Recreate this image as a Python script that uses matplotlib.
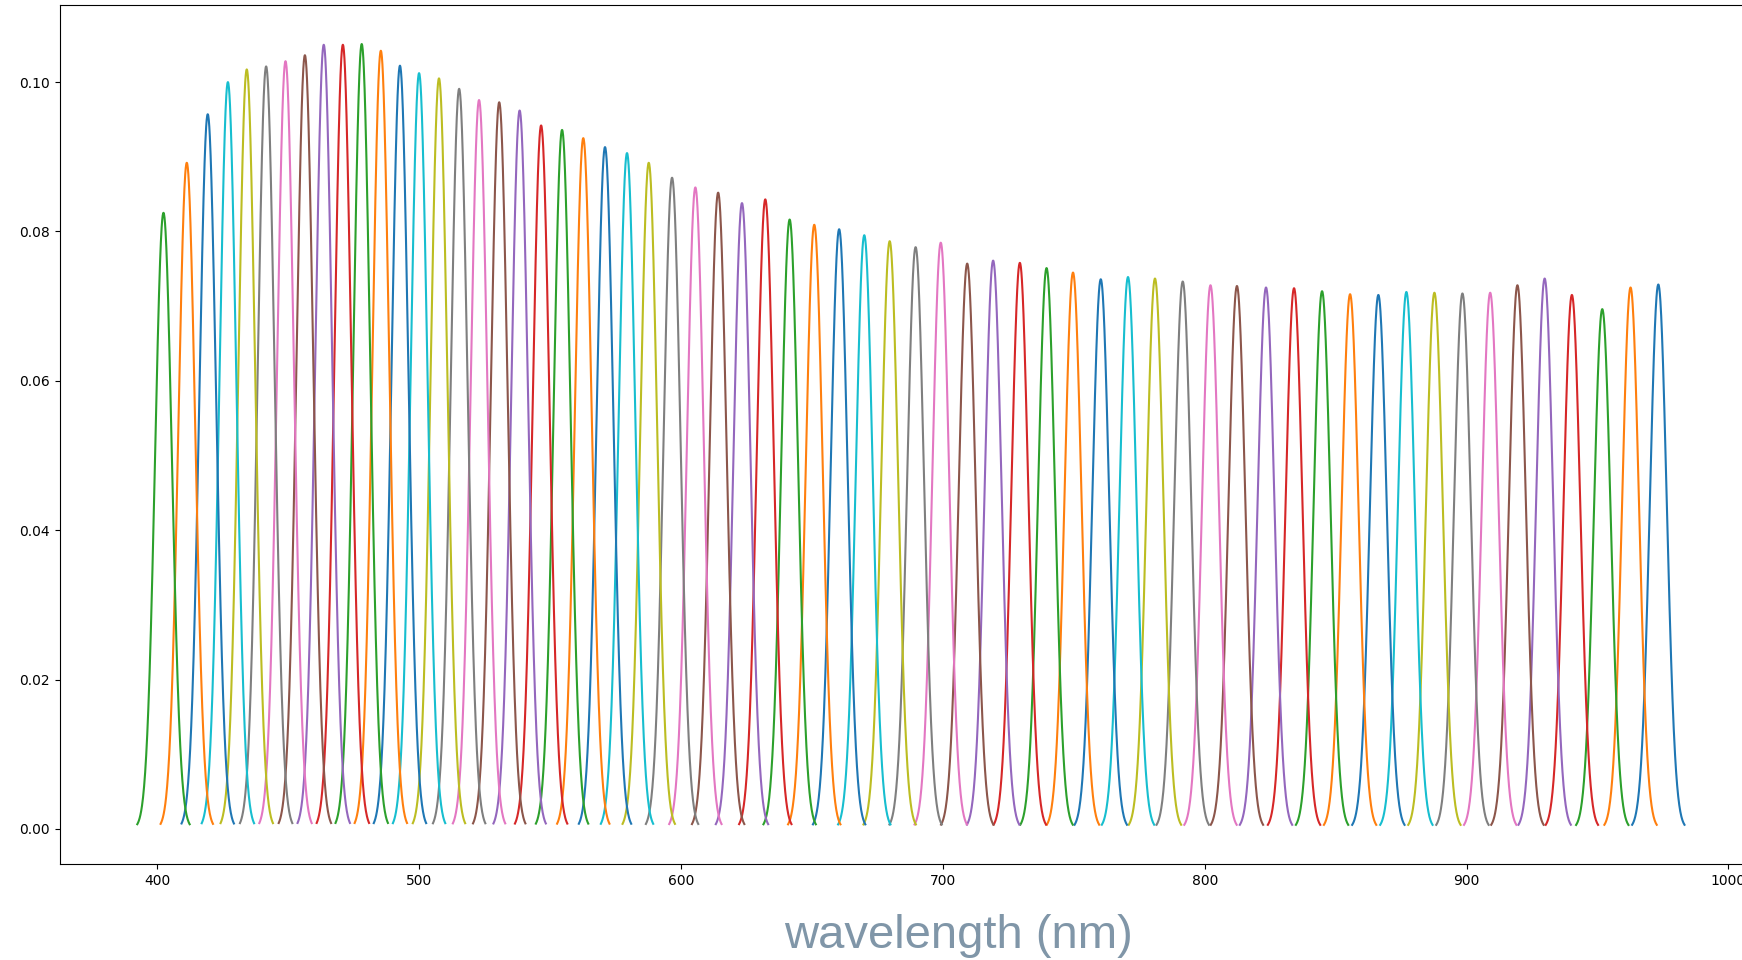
import numpy as np
import matplotlib.pyplot as plt

# filter channels: centre wavelength (nm) and peak response
centers = [402.4, 411.3, 419.3, 427.0, 434.2, 441.6, 449.0, 456.4, 463.6, 470.9,
           478.1, 485.4, 492.7, 500.0, 507.6, 515.3, 522.9, 530.6, 538.4, 546.6,
           554.6, 562.7, 571.0, 579.4, 587.7, 596.6, 605.5, 614.2, 623.3, 632.2,
           641.5, 650.9, 660.4, 670.0, 679.7, 689.6, 699.2, 709.3, 719.2, 729.4,
           739.6, 749.7, 760.3, 770.7, 781.0, 791.6, 802.2, 812.3, 823.4, 834.1,
           844.8, 855.5, 866.3, 877.0, 887.7, 898.4, 909.0, 919.4, 929.8, 940.2,
           951.8, 962.6, 973.2]
peaks = [0.0825, 0.0892, 0.0957, 0.1000, 0.1017, 0.1021, 0.1028, 0.1036, 0.1050, 0.1050,
         0.1051, 0.1042, 0.1022, 0.1012, 0.1005, 0.0991, 0.0976, 0.0973, 0.0962, 0.0942,
         0.0936, 0.0925, 0.0913, 0.0905, 0.0892, 0.0872, 0.0859, 0.0852, 0.0838, 0.0843,
         0.0816, 0.0809, 0.0803, 0.0795, 0.0787, 0.0779, 0.0785, 0.0757, 0.0761, 0.0758,
         0.0751, 0.0745, 0.0736, 0.0739, 0.0737, 0.0733, 0.0728, 0.0727, 0.0725, 0.0724,
         0.0720, 0.0716, 0.0715, 0.0719, 0.0718, 0.0717, 0.0718, 0.0728, 0.0737, 0.0715,
         0.0696, 0.0725, 0.0729]

sigma = 3.2      # gaussian width of each channel (nm)
half_span = 10   # each response is sampled over centre +/- 10 nm

fig = plt.figure(figsize=(17.42, 9.6), dpi=100)
ax = fig.add_axes([0.0344, 0.1, 0.977, 0.8948])

# longest wavelength first, so the colour cycle runs from the red end
for c, h in zip(centers[::-1], peaks[::-1]):
    wl = np.linspace(c - half_span, c + half_span, 201)
    ax.plot(wl, h * np.exp(-(wl - c) ** 2 / (2 * sigma ** 2)))

fig.text(0.55, 0.0125, 'wavelength (nm)', ha='center', va='baseline',
         fontsize=34, color='#8096a8', family=['Liberation Sans', 'DejaVu Sans'])

fig.savefig('out.png', dpi=100)
